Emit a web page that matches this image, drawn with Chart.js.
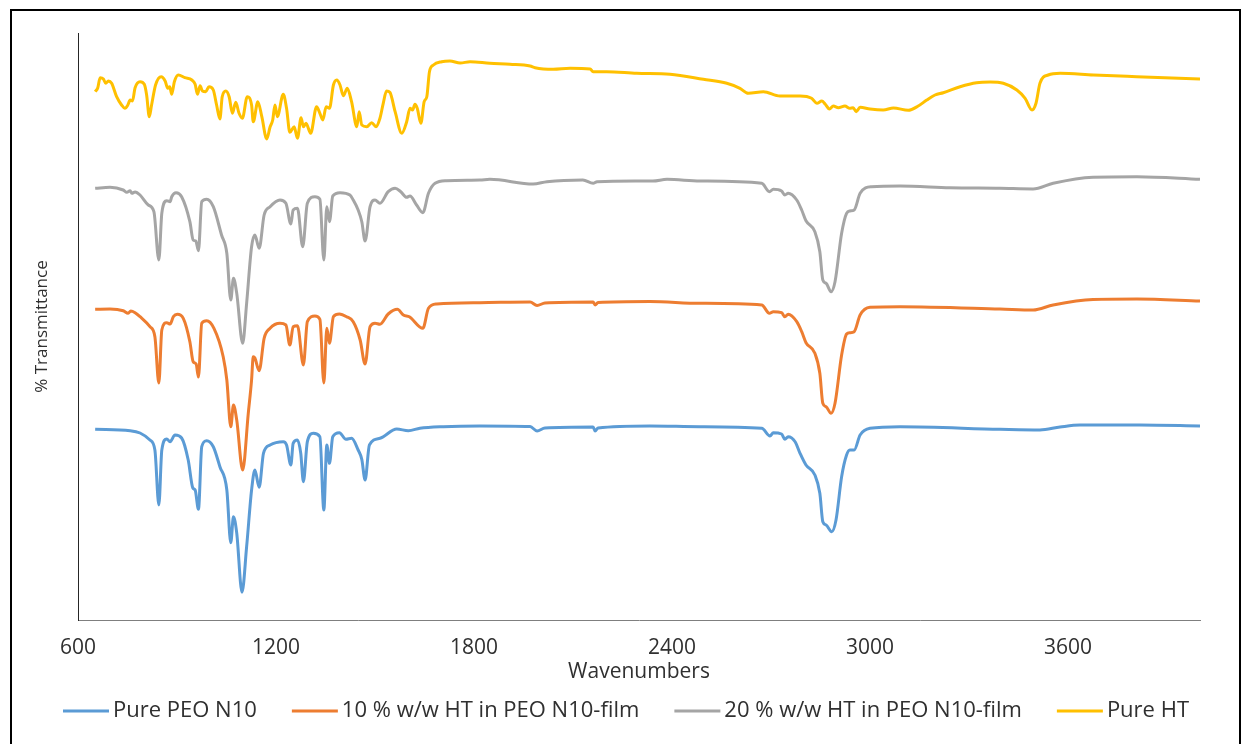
<!DOCTYPE html>
<html>
<head>
<meta charset="utf-8">
<script src="https://cdn.jsdelivr.net/npm/chart.js@4.4.1/dist/chart.umd.min.js"></script>
<style>
html,body{margin:0;padding:0;background:#fff;}
#wrap{width:1244px;height:744px;}
</style>
</head>
<body>
<div id="wrap"><canvas id="c" width="1244" height="744"></canvas></div>
<script>
// ---- data (wavenumber in cm-1, % transmittance with vertical offsets as plotted) ----
const seriesNames = ['Pure PEO N10', '10 % w/w HT in PEO N10-film', '20 % w/w HT in PEO N10-film', 'Pure HT'];
const seriesColors = ['#5B9BD5', '#ED7D31', '#A5A5A5', '#FFC000'];
const xTickLabels = [600, 1200, 1800, 2400, 3000, 3600];

const wnPEO = [652,758,788,818,833,845,854,869,879,894,914,934,948,955,965,975,990,1010,1030,1051,1063,1071,1081,1097,1111,1126,1136,1149,1162,1182,1222,1232,1245,1252,1265,1275,1283,1295,1313,1333,1345,1354,1362,1372,1392,1412,1429,1449,1460,1470,1483,1515,1566,1601,1636,1707,1818,1970,1991,2015,2161,2167,2176,2333,2485,2672,2697,2707,2732,2742,2752,2773,2788,2806,2833,2848,2857,2867,2884,2897,2914,2929,2939,2952,2970,3000,3091,3394,3515,3576,3636,3818,4000];
const tPEO = [19.07,18.93,18.7,18.0,17.0,11.5,17.0,18.1,17.83,18.5,18.2,16.0,13.2,13.0,11.07,17.33,17.93,17.33,15.33,13.0,7.73,10.33,8.7,2.77,7.33,13.0,15.0,13.27,16.67,17.5,17.83,17.5,15.5,17.67,18.0,16.67,13.83,17.83,18.67,18.33,11.0,17.5,15.67,18.33,18.73,18.07,18.17,17.0,16.07,14.0,17.5,18.17,19.1,18.93,19.17,19.33,19.4,19.35,18.9,19.2,19.3,18.9,19.2,19.4,19.33,19.17,18.4,18.73,18.6,18.07,18.33,17.83,16.67,15.5,14.5,12.67,9.83,9.5,8.83,10.0,14.33,16.5,17.0,17.0,18.5,19.17,19.33,19.07,19.0,19.3,19.5,19.5,19.4];

const wnHT10 = [652,697,737,752,760,773,788,818,833,845,854,869,879,889,901,919,939,949,958,965,975,990,1012,1040,1051,1063,1071,1081,1099,1116,1126,1131,1136,1149,1164,1182,1212,1230,1242,1252,1265,1283,1295,1318,1333,1345,1354,1362,1374,1392,1414,1434,1455,1470,1485,1500,1515,1540,1568,1586,1604,1645,1662,1687,1818,1970,1991,2015,2161,2167,2176,2333,2485,2672,2695,2707,2732,2742,2752,2778,2793,2806,2833,2848,2857,2867,2882,2894,2914,2929,2939,2952,2970,3000,3091,3394,3494,3555,3676,3809,4000];
const tHT10 = [31.07,31.1,30.93,30.67,30.9,30.73,30.33,29.33,28.33,23.7,29.0,29.73,29.6,30.33,30.57,30.17,27.83,25.83,25.6,24.3,29.67,29.93,29.17,26.33,24.0,19.33,21.5,20.0,15.0,20.67,24.0,26.33,26.2,24.93,28.17,29.17,29.67,29.5,27.5,29.33,29.43,25.5,29.83,30.4,30.07,23.7,29.17,27.67,30.33,30.6,30.33,29.83,28.0,25.6,29.33,29.67,29.57,30.6,31.07,30.5,30.33,29.17,31.17,31.6,31.73,31.8,31.45,31.7,31.8,31.5,31.75,31.85,31.67,31.5,30.67,30.83,30.73,30.33,30.57,29.83,28.83,27.73,26.67,24.67,21.67,21.33,20.67,21.67,26.5,28.6,28.73,28.83,30.5,31.27,31.33,31.1,31.0,31.5,32.05,32.1,31.9];

const wnHT20 = [652,697,737,748,758,763,773,788,813,830,845,854,869,879,884,897,914,939,949,957,965,975,990,1010,1035,1051,1063,1071,1081,1099,1111,1126,1136,1149,1164,1182,1212,1230,1245,1252,1265,1281,1295,1318,1333,1345,1354,1362,1372,1394,1424,1434,1449,1460,1470,1485,1500,1515,1540,1561,1578,1596,1606,1626,1645,1662,1682,1717,1818,1848,1979,2021,2130,2161,2173,2342,2385,2485,2672,2695,2707,2732,2742,2752,2778,2793,2806,2833,2848,2857,2867,2882,2894,2914,2929,2939,2952,2970,3005,3091,3242,3394,3494,3555,3676,3809,4000];
const tHT20 = [43.17,43.27,43.0,42.77,42.93,42.67,42.8,42.5,41.5,40.83,36.0,40.67,41.93,41.83,42.33,42.73,42.33,39.83,38.0,37.9,36.93,41.83,42.07,41.33,38.5,36.67,32.0,34.17,32.67,27.67,31.67,37.33,38.5,37.17,40.5,41.33,42.0,41.67,39.6,41.0,41.17,37.33,41.67,42.33,42.07,36.0,41.33,39.83,42.4,42.73,42.5,42.0,41.0,39.83,37.9,41.33,42.0,41.67,42.83,43.17,42.83,42.27,42.4,41.5,40.73,42.67,43.67,43.93,44.0,44.07,43.6,43.83,44.0,43.67,43.83,43.9,44.07,43.9,43.67,42.83,43.07,42.9,42.5,42.67,42.0,41.0,39.93,38.83,36.83,34.0,33.67,32.83,33.83,38.67,40.67,40.9,41.0,42.67,43.33,43.4,43.23,43.17,43.1,43.67,44.27,44.33,44.07];

const wnHT = [652,660,667,677,684,692,702,717,732,742,751,758,765,773,788,801,808,816,823,835,852,864,872,878,884,892,904,924,945,955,962,970,977,987,997,1010,1020,1030,1037,1048,1058,1068,1078,1088,1098,1113,1126,1131,1145,1157,1172,1182,1190,1197,1204,1222,1232,1242,1255,1265,1276,1283,1291,1305,1323,1333,1342,1352,1362,1374,1384,1394,1404,1416,1429,1445,1452,1460,1475,1490,1503,1515,1525,1535,1545,1561,1581,1596,1606,1614,1621,1628,1639,1649,1657,1665,1677,1702,1727,1758,1788,1848,1909,1970,1985,2040,2091,2152,2161,2202,2293,2394,2495,2566,2606,2631,2677,2727,2788,2823,2839,2854,2864,2877,2889,2904,2924,2939,2949,2958,2970,3000,3040,3071,3116,3146,3172,3197,3222,3273,3323,3364,3404,3445,3470,3491,3503,3515,3540,3576,3677,3808,4000];
const tHT = [52.83,53.23,54.23,54.1,53.67,53.9,53.67,52.33,51.5,51.17,51.5,52.0,51.9,53.23,53.83,53.57,52.5,50.33,51.5,53.5,54.33,53.9,53.17,53.33,52.57,53.83,54.5,54.23,54.0,53.57,52.57,53.43,52.9,52.83,53.33,53.0,51.5,50.1,52.33,52.9,52.33,50.67,51.77,50.67,50.17,52.33,51.5,49.83,51.83,50.33,48.1,49.3,50.0,51.5,50.33,52.57,51.17,48.77,49.33,48.17,50.23,49.33,49.67,48.67,51.33,50.67,50.0,51.33,51.17,53.5,54.0,53.5,52.43,53.17,51.83,49.33,50.83,49.5,49.33,49.73,49.33,50.17,51.67,52.9,52.77,50.83,48.67,49.83,51.17,51.0,51.57,51.17,49.67,51.83,52.33,54.83,55.5,55.83,55.9,55.7,55.83,55.67,55.57,55.4,55.23,55.07,55.17,55.1,54.83,54.83,54.67,54.57,54.07,53.67,53.17,52.67,52.83,52.4,52.4,52.17,51.67,51.9,51.6,51.1,51.4,51.23,51.4,51.17,51.23,50.83,51.27,51.1,51.0,51.2,50.97,51.4,52.0,52.5,52.73,53.33,53.73,53.8,53.67,53.0,52.17,51.0,51.67,53.67,54.5,54.67,54.5,54.33,54.1];

const xMin = 600, xMax = 4000, yMin = 0, yMax = 58.7;

// ---- build ----
const wnSets = [wnPEO, wnHT10, wnHT20, wnHT];
const tSets = [tPEO, tHT10, tHT20, tHT];
const datasets = seriesNames.map((name, i) => ({
  label: name,
  data: wnSets[i].map((w, k) => ({x: w, y: tSets[i][k]})),
  borderColor: seriesColors[i],
  backgroundColor: seriesColors[i],
  borderWidth: 3,
  pointRadius: 0,
  cubicInterpolationMode: 'monotone',
  fill: false
}));

const FAMILY = "'Open Sans', sans-serif";
const FONT = {family: FAMILY, size: 21};
const YFONT = {family: FAMILY, size: 17};
const LEGEND_SIZE = 22;
const TXT = '#303030';

// frame + white background
const framePlugin = {
  id: 'frame',
  beforeDraw(chart) {
    const c = chart.ctx;
    c.save(); c.fillStyle = '#ffffff'; c.fillRect(0, 0, chart.width, chart.height); c.restore();
  },
  afterDraw(chart) {
    const c = chart.ctx;
    c.save(); c.strokeStyle = '#000000'; c.lineWidth = 2;
    c.strokeRect(11, 10, chart.width - 15, chart.height + 20);
    c.restore();
  }
};

// single-row legend (line sample + label), spread with equal gaps like the original
const legendPlugin = {
  id: 'rowLegend',
  afterDraw(chart) {
    const c = chart.ctx;
    const left = 63, right = 1189, yMid = 711, lineLen = 46, gapText = 4;
    c.save();
    c.font = `${LEGEND_SIZE}px ${FAMILY}`;
    const ds = chart.data.datasets;
    const w = ds.map(d => lineLen + gapText + c.measureText(d.label).width);
    const gap = (right - left - w.reduce((a, b) => a + b, 0)) / (ds.length - 1);
    let x = left;
    ds.forEach((d, i) => {
      c.strokeStyle = d.borderColor; c.lineWidth = d.borderWidth; c.lineCap = 'butt';
      c.beginPath(); c.moveTo(x, yMid); c.lineTo(x + lineLen, yMid); c.stroke();
      c.fillStyle = TXT; c.textAlign = 'left'; c.textBaseline = 'middle';
      c.fillText(d.label, x + lineLen + gapText, yMid);
      x += w[i] + gap;
    });
    c.restore();
  }
};

new Chart(document.getElementById('c'), {
  type: 'line',
  data: {datasets},
  plugins: [framePlugin, legendPlugin],
  options: {
    responsive: false,
    animation: false,
    layout: {padding: {left: 0, right: 44, top: 33, bottom: 60}},
    scales: {
      x: {
        type: 'linear', min: xMin, max: xMax,
        grid: {display: false, drawTicks: false},
        border: {display: true, color: '#7f7f7f', width: 1},
        ticks: {
          stepSize: 200, font: FONT, color: TXT, padding: 15, maxRotation: 0, autoSkip: false,
          callback: (v) => xTickLabels.includes(v) ? String(v) : ''
        },
        title: {display: true, text: 'Wavenumbers', font: FONT, color: TXT, padding: {top: 0, bottom: -1}},
        afterFit(scale) { scale.height = 64; }
      },
      y: {
        min: yMin, max: yMax,
        grid: {display: false, drawTicks: false},
        border: {display: true, color: '#262626', width: 1},
        ticks: {display: false},
        title: {display: true, text: '% Transmittance', font: YFONT, color: TXT, padding: {top: 31.8, bottom: 0}},
        afterFit(scale) { scale.width = 78; }
      }
    },
    plugins: {
      legend: {display: false},
      tooltip: {enabled: false}
    }
  }
});
</script>
</body>
</html>
